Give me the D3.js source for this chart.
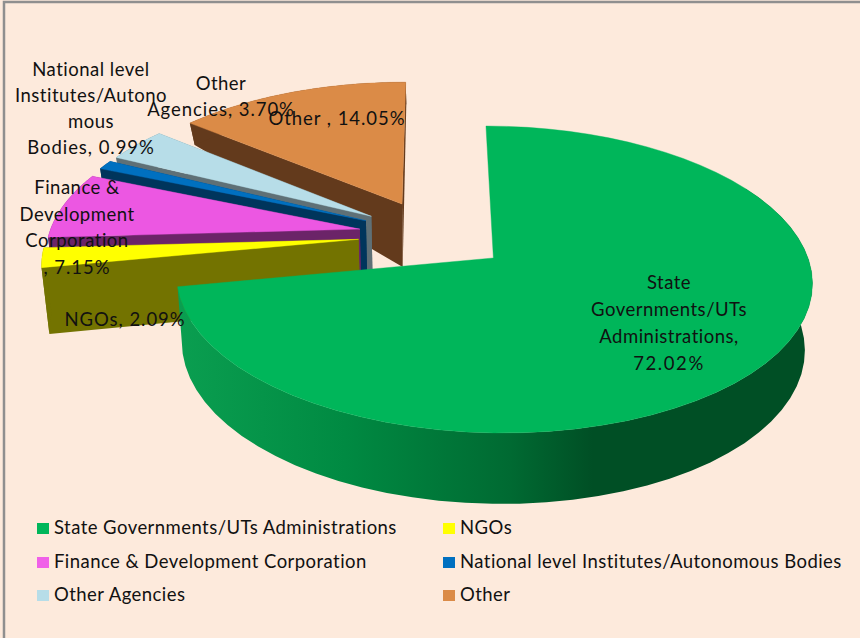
<!DOCTYPE html>
<html><head><meta charset="utf-8"><script src="https://cdnjs.cloudflare.com/ajax/libs/d3/7.8.5/d3.min.js"></script>
<style>html,body{margin:0;padding:0;background:#fdeadc}svg{display:block}text{font-family:Lato,"Open Sans",sans-serif;fill:#111}</style></head>
<body><svg id="c" width="860" height="638"></svg>
<script>
const categories=["State Governments/UTs Administrations","NGOs","Finance & Development Corporation","National level Institutes/Autonomous Bodies","Other Agencies","Other"];
const values=[72.02,2.09,7.15,0.99,3.70,14.05];
const labelLines=[["State","Governments/UTs","Administrations,","72.02%"],["NGOs, 2.09%"],["Finance &","Development","Corporation",", 7.15%"],["National level","Institutes/Autono","mous","Bodies, 0.99%"],["Other","Agencies, 3.70%"],["Other , 14.05%"]];
const topColors=["#00b65a","#ffff00","#ec57e2","#0070c0","#b7dde8","#db8b47"];
const wallColors=["#0a9e50","#737300","#6b2468","#00355c","#5f7076","#633a1c"];
const legendColors=["#00b65a","#ffff00","#f060e8","#0070c0","#b7dde8","#db8b47"];
// layout
const labelPos=[[669,283],[125,320],[77,188],[91,70],[221,84],[337,119]];
const labelStep=[27,0,26.5,26,26,0];
const radiusU=[0.99,1,1,1,1,1];
const radiusV=[0.98,1,1,1,1,1];
const explodeU=[0.19,null,null,null,null,null];
const P={cx:433,cy:235,rx:311,ry:147,k:0.14,m:0,e:0.24,shrink:0.98};
const depth=d3.scaleLinear().domain([-1.14,-0.15,0.217,0.85]).range([71,66,63,22]).clamp(true);
const project=(U,V)=>{const w=1+P.k*V+P.m*U;return [P.cx+P.rx*U/w,P.cy-P.ry*V/w];};
const lower=(U,V)=>{const [x,y]=project(U,V);return [P.cx+(x-P.cx)*P.shrink,y+depth(V)];};
const svg=d3.select("#c");
svg.append("rect").attr("width",860).attr("height",638).attr("fill","#fdeadc");
svg.append("rect").attr("x",4).attr("y",2).attr("width",870).attr("height",660).attr("fill","none").attr("stroke","#8f8f8f").attr("stroke-width",2.5);
const defs=svg.append("defs");
const grad=defs.append("linearGradient").attr("id","stateWall").attr("gradientUnits","userSpaceOnUse").attr("x1",180).attr("x2",815).attr("y1",0).attr("y2",0);
[[0,"#0a9e50"],[0.26,"#008a42"],[0.52,"#006a32"],[0.65,"#004f25"],[1,"#004f25"]].forEach(([o,c])=>grad.append("stop").attr("offset",o).attr("stop-color",c));
const pie=d3.pie().sort(null).startAngle(0).endAngle(2*Math.PI);
const arcs=pie(values);
const line=d3.line();
const order=[5,4,3,2,1,0];
order.forEach(i=>{
  const a=arcs[i],mid=(a.startAngle+a.endAngle)/2;
  const eu=explodeU[i]===null?P.e*Math.sin(mid):explodeU[i],ev=P.e*Math.cos(mid);
  const thetas=d3.range(0,61).map(j=>a.startAngle+(a.endAngle-a.startAngle)*j/60);
  const rim=thetas.map(t=>[eu+radiusU[i]*Math.sin(t),ev+radiusV[i]*Math.cos(t)]);
  const apex=[eu,ev];
  const g=svg.append("g");
  const fill=i===0?"url(#stateWall)":wallColors[i];
  const up=p=>project(p[0],p[1]),low=p=>lower(p[0],p[1]);
  const wall=pts=>g.append("path").attr("d",line(pts.map(up).concat(pts.slice().reverse().map(low)))+"Z").attr("fill",fill);
  if(i!==0){wall([apex,rim[rim.length-1]]);wall([apex,rim[0]]);}
  wall(i===0?rim.filter((p,j)=>thetas[j]>Math.PI/3):rim);
  g.append("path").attr("d",line([apex,...rim].map(up))+"Z").attr("fill",topColors[i]).attr("stroke",topColors[i]).attr("stroke-width",0.4);
});
const spacing=t=>/^\d/.test(t)?1.6:/\d/.test(t)?0.95:0.5;
labelLines.forEach((ls,i)=>ls.forEach((t,j)=>svg.append("text").attr("x",labelPos[i][0]).attr("y",labelPos[i][1]+j*labelStep[i]+6).attr("text-anchor","middle").attr("font-size",18.5).attr("letter-spacing",spacing(t)).text(t)));
const legCols=[37,443],legRows=[528,562,595];
categories.forEach((c,i)=>{
  const x=legCols[i%2],y=legRows[Math.floor(i/2)];
  svg.append("rect").attr("x",x).attr("y",y-5).attr("width",12).attr("height",11).attr("fill",legendColors[i]);
  svg.append("text").attr("x",x+17).attr("y",y+6).attr("font-size",18.5).attr("letter-spacing",0.45).text(c);
});
</script></body></html>
